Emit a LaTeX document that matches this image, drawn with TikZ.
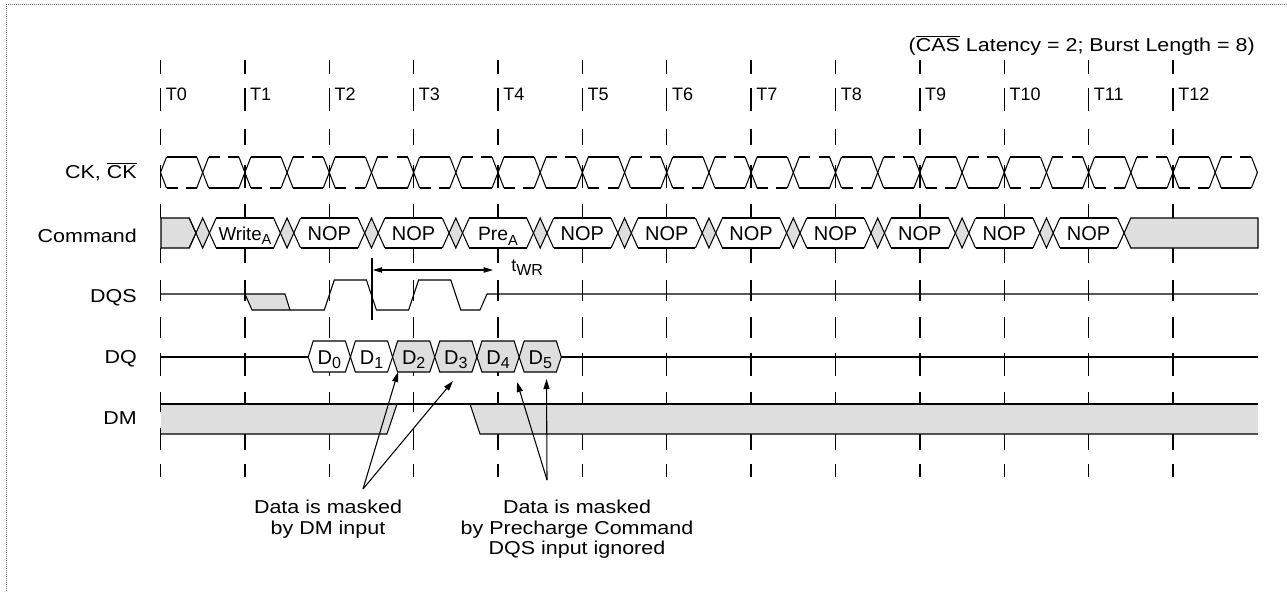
\documentclass[tikz,border=0pt]{standalone}
\usepackage{fontspec}
\setmainfont{Liberation Sans}
\newfontfamily\widefont{Liberation Sans}[FakeStretch=1.15]
\usetikzlibrary{arrows.meta}
\newcommand\ovl[1]{$\overline{\mbox{#1}}$}
\newcommand\lowsub[2]{\raisebox{-0.45ex}{\fontsize{#1}{#1}\selectfont #2}}
\begin{document}
\begin{tikzpicture}[x=0.75pt,y=-0.75pt,
  sig/.style={line width=0.8pt,line join=miter},
  clkdash/.style={dash pattern=on 8.25pt off 6.2pt},
  tick/.style={line width=1.1pt},
  grayfill/.style={fill=black!13},
  border/.style={draw=black!55,line width=0.75pt,dash pattern=on 0.75pt off 0.75pt},
  lab/.style={font=\widefont\fontsize{14}{15}\selectfont,inner sep=0pt},
  tlab/.style={font=\fontsize{13.5}{15}\selectfont,inner sep=0pt},
  cmd/.style={font=\fontsize{15}{17}\selectfont,inner sep=0pt},
  ann/.style={font=\widefont\fontsize{14}{15.2}\selectfont,inner sep=0pt,align=center},
  arr/.style={line width=0.8pt,-{Triangle[length=7.5pt,width=4.5pt]}},
  darr/.style={line width=0.8pt,{Triangle[length=7pt,width=4pt]}-{Triangle[length=7pt,width=4pt]}}
]
\useasboundingbox (0,0) rectangle (1287,592);
\draw[border] (6,4.5) -- (1287,4.5);
\draw[border] (6.5,4) -- (6.5,592);

% ---- time ticks and labels
\foreach \n in {0,...,12}{
  \pgfmathsetmacro\T{160.5+\n*84.375}
  \foreach \a/\b in {60/74,88/111,129/145,165/188,204/218,248/263,280/301,317/338,353/376,392/412,428/450,464/477}{
    \draw[tick] (\T,\a) -- (\T,\b);
  }
  \node[tlab,anchor=base west] (t\n) at (\T+5,100) {T\n};
}

% ---- clock
\foreach \n in {0,...,12}{
  \pgfmathsetmacro\T{160.5+\n*84.375}
  \pgfmathsetmacro\H{\T+42.1875}
  \pgfmathsetmacro\N{\T+84.375}
  \ifnum\n=0
    \draw[sig] (\T,172.5) -- (\T+6,157);
    \draw[sig] (\T,172.5) -- (\T+6,188);
  \else
    \draw[sig] (\T-6,188) -- (\T+6,157);
    \draw[sig] (\T-6,157) -- (\T+6,188);
  \fi
  \draw[sig] (\T+6,157) -- (\H-6,157);
  \draw[sig,clkdash] (\T+6,188) -- (\H-6,188);
  \draw[sig] (\H-6,157) -- (\H+6,188);
  \draw[sig] (\H-6,188) -- (\H+6,157);
  \draw[sig] (\H+6,188) -- (\N-6,188);
  \draw[sig,clkdash] (\H+6,157) -- (\N-6,157);
}
\pgfmathsetmacro\TE{160.5+13*84.375}
\draw[sig] (\TE-6,157) -- (\TE,172.5) -- (\TE-6,188);

% ---- command bus
\pgfmathsetmacro\C{160.5+42.1875}
\filldraw[sig,grayfill] (161,218) -- (\C-13.5,218) -- (\C-6.75,233) -- (\C-13.5,248) -- (161,248) -- cycle;
\foreach \n in {0,...,10}{
  \pgfmathsetmacro\C{160.5+\n*84.375+42.1875}
  \fill[grayfill] (\C-6.75,233) -- (\C,218) -- (\C+6.75,233) -- (\C,248) -- cycle;
  \draw[sig] (\C-13.5,218) -- (\C,248) -- (\C+13.5,218);
  \draw[sig] (\C-13.5,248) -- (\C,218) -- (\C+13.5,248);
}
\foreach \n in {1,...,11}{
  \pgfmathsetmacro\A{160.5+(\n-1)*84.375+42.1875+13.5}
  \pgfmathsetmacro\B{160.5+\n*84.375+42.1875-13.5}
  \draw[sig] (\A,218) -- (\B,218);
  \draw[sig] (\A,248) -- (\B,248);
}
\pgfmathsetmacro\C{160.5+11*84.375+42.1875}
\draw[sig] (\C-13.5,218) -- (\C-6.75,233);
\draw[sig] (\C-13.5,248) -- (\C-6.75,233);
\filldraw[sig,grayfill] (\C-6.75,233) -- (\C,218) -- (1258,218) -- (1258,248) -- (\C,248) -- cycle;

\node[cmd,anchor=base] (c1) at (245,240.5) {\fontsize{14}{16}\selectfont Write\lowsub{11}{A}};
\foreach \n in {2,3,5,6,7,8,9,10,11}{
  \pgfmathsetmacro\T{160.5+\n*84.375}
  \node[cmd,anchor=base] (c\n) at (\T,240.5) {NOP};
}
\node[cmd,anchor=base] (c4) at (498,240.5) {\fontsize{14.5}{16}\selectfont Pre\lowsub{11}{A}};

% ---- DQS
\fill[grayfill] (245,294) -- (285,294) -- (290,310) -- (252,310) -- cycle;
\draw[sig] (161,294) -- (285,294) -- (290,310);
\draw[sig] (245,294) -- (252,310) -- (324.3,310) -- (334.3,280) -- (366.4,280) -- (376.4,310)
  -- (408.6,310) -- (418.6,280) -- (450.8,280) -- (460.8,310) -- (480,310) -- (487,294) -- (1258,294);

% ---- tWR
\draw[line width=1.6pt] (372,258) -- (372,320);
\coordinate (wrA) at (372.8,270);
\coordinate (wrB) at (493,270);
\draw[darr] (wrA) -- (wrB);
\node[tlab,anchor=base west] (twr) at (511,271) {t\lowsub{12}{WR}};

% ---- DQ
\draw[sig] (161,357) -- (308.2,357);
\foreach \k in {0,...,5}{
  \pgfmathsetmacro\X{308.2+\k*42.1875}
  \pgfmathsetmacro\Y{\X+42.1875}
  \ifnum\k>1 \def\fc{black!13}\else\def\fc{white}\fi
  \filldraw[sig,fill=\fc] (\X,357) -- (\X+5,341) -- (\Y-5,341) -- (\Y,357) -- (\Y-5,372) -- (\X+5,372) -- cycle;
  \node[cmd,anchor=base] (d\k) at (\X+21.1,364) {D\lowsub{12}{\k}};
}
\draw[sig] (561.3,357) -- (1258,357);

% ---- DM
\fill[grayfill] (161,404) -- (397,404) -- (387,434) -- (161,434) -- cycle;
\fill[grayfill] (470,404) -- (1258,404) -- (1258,434) -- (480,434) -- cycle;
\draw[sig] (161,404) -- (1258,404);
\draw[sig] (161,434) -- (387,434) -- (397,404);
\draw[sig] (470,404) -- (480,434) -- (1258,434);

% ---- signal names
\node[lab,anchor=base east] (lck) at (137,178.5) {CK, \ovl{CK}};
\node[lab,anchor=base east] (lcmd) at (137,242) {Command};
\node[lab,anchor=base east] (ldqs) at (137,302) {DQS};
\node[lab,anchor=base east] (ldq) at (137,363) {DQ};
\node[lab,anchor=base east] (ldm) at (137,424) {DM};

% ---- header
\node[lab,anchor=base east] (hdr) at (1255,51) {(\ovl{CAS} Latency = 2; Burst Length = 8)};

% ---- annotations
\node[ann,anchor=north] (a1) at (328,500) {Data is masked\\by DM input};
\node[ann,anchor=north] (a2) at (577,500) {Data is masked\\by Precharge Command\\DQS input ignored};
\coordinate (s1) at (363,489);
\coordinate (s2) at (547,480);
\coordinate (p1) at (398,372);
\coordinate (p2) at (453,381);
\coordinate (p3) at (517,382);
\coordinate (p4) at (546.5,379);
\draw[arr] (s1) -- (p1);
\draw[arr] (s1) -- (p2);
\draw[arr] (s2) -- (p3);
\draw[arr] (s2) -- (p4);
\end{tikzpicture}
\end{document}
